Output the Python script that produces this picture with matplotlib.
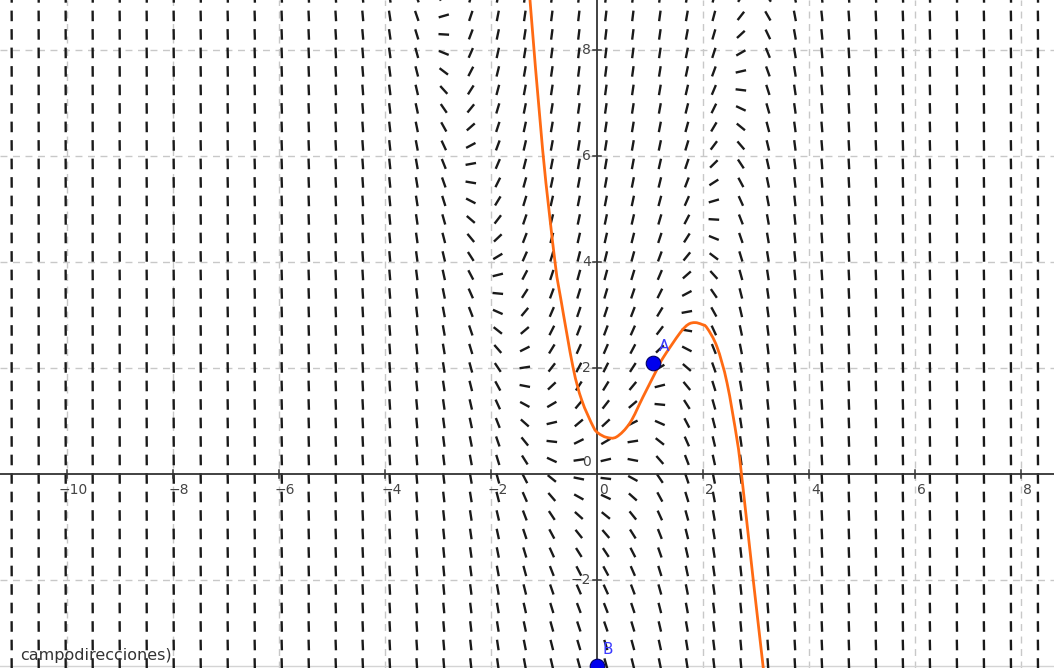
import numpy as np
import matplotlib
matplotlib.use('Agg')
import matplotlib.pyplot as plt
from matplotlib.collections import LineCollection
from matplotlib.path import Path
from matplotlib.patches import PathPatch

# ventana (unidades del grafico)
xmin, xmax = -11.26, 8.62
ymin, ymax = -3.66, 8.94

# curva naranja
curve_x = [-1.30, -1.264, -1.025, -0.792, -0.679, -0.453, -0.289, -0.07, 0.025, 0.183,
           0.37, 0.62, 0.868, 1.126, 1.245, 1.566, 1.72, 1.85, 1.98, 2.075, 2.264,
           2.453, 2.642, 2.725, 2.943, 3.126, 3.15]
curve_y = [9.35, 8.943, 6.113, 4.0, 3.283, 2.019, 1.396, 0.89, 0.77, 0.69,
           0.70, 0.96, 1.453, 1.962, 2.189, 2.660, 2.82, 2.855, 2.82, 2.755, 2.396,
           1.717, 0.642, 0.0, -1.962, -3.566, -3.80]

# puntos
pts_name = ['A', 'B']
pts_x = [1.06, 0.0]
pts_y = [2.09, -3.63]

# marcas de los ejes
xticks = [-10, -8, -6, -4, -2, 0, 2, 4, 6, 8]
yticks = [-2, 0, 2, 4, 6, 8]

# malla del campo de direcciones
field_x0, field_dx, field_nx = -11.04, 0.5094, 39
field_y0, field_dy = 0.264, 0.349


def f(x, y):
    return y - x ** 2


fig = plt.figure(figsize=(10.54, 6.68), dpi=100)
ax = fig.add_axes([0, 0, 1, 1])
ax.set_xlim(xmin, xmax)
ax.set_ylim(ymin, ymax)
ax.axis('off')

# cuadricula
for g in range(-10, 9, 2):
    if g != 0:
        ax.axvline(g, color='#c8c8c8', lw=1.0, ls=(0, (5, 4)), zorder=0)
for g in range(-2, 9, 2):
    if g != 0:
        ax.axhline(g, color='#c8c8c8', lw=1.0, ls=(0, (5, 4)), zorder=0)

# borde inferior de la vista
ax.axhline(-3.615, color='#d4d4d4', lw=1.0, zorder=1)

# campo de direcciones
gx = field_x0 + field_dx * np.arange(field_nx)
jlo = int(np.floor((ymin - field_y0) / field_dy)) - 1
jhi = int(np.ceil((ymax - field_y0) / field_dy)) + 1
gy = field_y0 + field_dy * np.arange(jlo, jhi + 1)
X, Y = np.meshgrid(gx, gy)
ang = np.arctan(f(X, Y))
L = 0.1
dx = L * np.cos(ang)
dy = L * np.sin(ang)
segs = np.stack([np.stack([X - dx, Y - dy], -1), np.stack([X + dx, Y + dy], -1)], -2)
ax.add_collection(LineCollection(segs.reshape(-1, 2, 2), colors='#1a1a1a', linewidths=1.7,
                                 capstyle='butt', zorder=2))

# ejes
ax.axhline(0, color='#333333', lw=1.3, zorder=3)
ax.axvline(0, color='#333333', lw=1.3, zorder=3)
for t in xticks:
    if t != 0:
        ax.plot([t, t], [-0.07, 0.07], color='#333333', lw=1.1, zorder=3)
    ax.text(t + 0.12, -0.17, ('\u2212%d' % -t) if t < 0 else '%d' % t, ha='center', va='top',
            fontsize=10, color='#444444', zorder=4)
for t in yticks:
    if t != 0:
        ax.plot([-0.07, 0.07], [t, t], color='#333333', lw=1.1, zorder=3)
        ax.text(-0.12, t, ('\u2212%d' % -t) if t < 0 else '%d' % t, ha='right', va='center',
                fontsize=10, color='#444444', zorder=4)
ax.text(-0.12, 0.22, '0', ha='right', va='center', fontsize=10, color='#444444', zorder=4)

# curva (trazo suave por los puntos leidos)
P = np.column_stack([curve_x, curve_y])
verts = [P[0]]
codes = [Path.MOVETO]
for i in range(len(P) - 1):
    p0 = P[max(i - 1, 0)]
    p3 = P[min(i + 2, len(P) - 1)]
    verts += [P[i] + (P[i + 1] - p0) / 6, P[i + 1] - (p3 - P[i]) / 6, P[i + 1]]
    codes += [Path.CURVE4] * 3
ax.add_patch(PathPatch(Path(verts, codes), facecolor='none', edgecolor='#ff6a13', lw=2.0,
                       zorder=5))

# puntos
ax.scatter(pts_x, pts_y, s=110, color='#0000ee', edgecolors='#000066', linewidths=0.8,
           zorder=6, clip_on=False)
for n, px, py in zip(pts_name, pts_x, pts_y):
    ax.text(px + 0.1, py + 0.17, n, color='#3a3aff', fontsize=11, ha='left', va='bottom', zorder=7)

ax.text(-10.88, -3.42, 'campodirecciones)', fontsize=11.5, color='#333333', ha='left',
        va='center', zorder=7)

fig.savefig('out.png', dpi=100)
